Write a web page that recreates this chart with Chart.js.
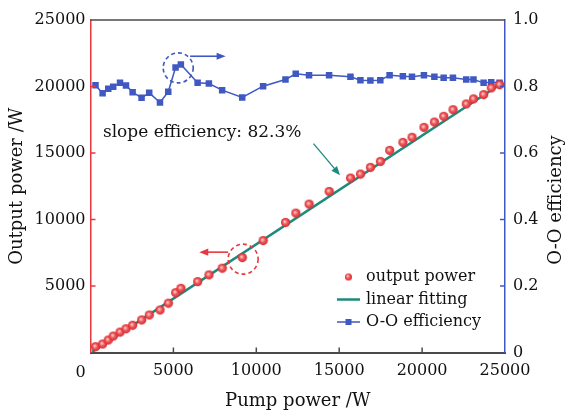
<!DOCTYPE html>
<html>
<head>
<meta charset="utf-8">
<script src="https://cdn.jsdelivr.net/npm/chart.js@4.4.0/dist/chart.umd.min.js"></script>
<style>
  body { margin: 0; background: #fff; }
  #wrap { width: 568px; height: 412px; }
</style>
</head>
<body>
<div id="wrap"><canvas id="chart" width="568" height="412"></canvas></div>
<script>
// pump power (W), shared by both series
const pumpPower = [300, 730, 1070, 1370, 1780, 2140, 2540, 3080, 3540, 4190, 4690, 5130, 5450, 6460,
  7140, 7940, 9150, 10410, 11760, 12380, 13180, 14390, 15680, 16280, 16880, 17480, 18040, 18840,
  19390, 20110, 20740, 21300, 21860, 22660, 23100, 23710, 24170, 24670];
const outputPower = [440, 640, 940, 1240, 1540, 1790, 2050, 2450, 2820, 3200, 3710, 4500, 4830, 5330,
  5840, 6340, 7140, 8420, 9780, 10480, 11160, 12110, 13120, 13420, 13920, 14370, 15200, 15800,
  16180, 16930, 17330, 17760, 18260, 18690, 19070, 19390, 19900, 20140];
const ooEfficiency = [0.804, 0.780, 0.793, 0.799, 0.811, 0.803, 0.783, 0.766, 0.781, 0.752, 0.784, 0.857,
  0.866, 0.811, 0.809, 0.789, 0.767, 0.801, 0.821, 0.838, 0.834, 0.834, 0.829, 0.819, 0.818, 0.819,
  0.834, 0.831, 0.829, 0.834, 0.829, 0.826, 0.826, 0.821, 0.821, 0.811, 0.813, 0.811];
// linear fit end points
const fitX = [100, 24700];
const fitY = [50, 20150];

const xTicks = [0, 5000, 10000, 15000, 20000, 25000];
const leftTicks = [0, 5000, 10000, 15000, 20000, 25000];
const rightTicks = [0, 0.2, 0.4, 0.6, 0.8, 1.0];

const slopeText = 'slope efficiency: 82.3%';
const legendLabels = ['output power', 'linear fitting', 'O-O efficiency'];

const red = '#e8383d';
const blue = '#3f58c2';
const teal = '#1c8a7c';
const axisGray = '#4a4a4a';
const serif = "'DejaVu Serif', serif";

Chart.defaults.font.family = serif;
Chart.defaults.color = '#111';

function makeBall(r) {
  const c = document.createElement('canvas');
  c.width = c.height = r * 2 + 2;
  const g = c.getContext('2d');
  const m = r + 1;
  const grad = g.createRadialGradient(m - 1, m - 1, 0.3, m, m, r);
  grad.addColorStop(0, '#fbd2d2');
  grad.addColorStop(0.45, '#ef5b5e');
  grad.addColorStop(1, '#d8262b');
  g.fillStyle = grad;
  g.beginPath();
  g.arc(m, m, r, 0, Math.PI * 2);
  g.fill();
  return c;
}
const ball = makeBall(4.6);
const smallBall = makeBall(3.5);

function arrow(ctx, x1, y1, x2, y2, color, w, head) {
  const ang = Math.atan2(y2 - y1, x2 - x1);
  ctx.strokeStyle = color;
  ctx.fillStyle = color;
  ctx.lineWidth = w;
  ctx.setLineDash([]);
  ctx.beginPath();
  ctx.moveTo(x1, y1);
  ctx.lineTo(x2 - Math.cos(ang) * head * 0.8, y2 - Math.sin(ang) * head * 0.8);
  ctx.stroke();
  ctx.beginPath();
  ctx.moveTo(x2, y2);
  ctx.lineTo(x2 - head * Math.cos(ang) + head * 0.4 * Math.sin(ang), y2 - head * Math.sin(ang) - head * 0.4 * Math.cos(ang));
  ctx.lineTo(x2 - head * Math.cos(ang) - head * 0.4 * Math.sin(ang), y2 - head * Math.sin(ang) + head * 0.4 * Math.cos(ang));
  ctx.closePath();
  ctx.fill();
}

function dashedCircle(ctx, cx, cy, r, color) {
  ctx.strokeStyle = color;
  ctx.lineWidth = 1.6;
  ctx.setLineDash([4, 3]);
  ctx.beginPath();
  ctx.arc(cx, cy, r, 0, Math.PI * 2);
  ctx.stroke();
  ctx.setLineDash([]);
}

const decorations = {
  id: 'decorations',
  afterDraw(chart) {
    const { ctx, chartArea: a, scales } = chart;
    const x = scales.x, y = scales.y, y1 = scales.y1;
    ctx.save();

    // top frame
    ctx.strokeStyle = axisGray;
    ctx.lineWidth = 1.5;
    ctx.beginPath();
    ctx.moveTo(a.left, a.top);
    ctx.lineTo(a.right, a.top);
    ctx.stroke();

    // inward tick marks
    ctx.lineWidth = 1.5;
    ctx.strokeStyle = axisGray;
    xTicks.slice(1, -1).forEach(v => {
      const px = x.getPixelForValue(v);
      ctx.beginPath(); ctx.moveTo(px, a.bottom); ctx.lineTo(px, a.bottom - 5); ctx.stroke();
    });
    ctx.strokeStyle = red;
    leftTicks.slice(1, -1).forEach(v => {
      const py = y.getPixelForValue(v);
      ctx.beginPath(); ctx.moveTo(a.left, py); ctx.lineTo(a.left + 5, py); ctx.stroke();
    });
    ctx.strokeStyle = blue;
    rightTicks.slice(1, -1).forEach(v => {
      const py = y1.getPixelForValue(v);
      ctx.beginPath(); ctx.moveTo(a.right, py); ctx.lineTo(a.right - 5, py); ctx.stroke();
    });

    // x "0" label sits left of the corner
    ctx.fillStyle = '#111';
    ctx.font = '16px ' + serif;
    ctx.textAlign = 'center';
    ctx.textBaseline = 'middle';
    ctx.fillText('0', x.getPixelForValue(0) - 10, a.bottom + 20);

    // right axis title, reading bottom to top
    ctx.save();
    ctx.translate(556, 200);
    ctx.rotate(-Math.PI / 2);
    ctx.font = '18px ' + serif;
    ctx.fillText('O-O efficiency', 0, 0);
    ctx.restore();

    // annotations
    dashedCircle(ctx, x.getPixelForValue(9205), y.getPixelForValue(7018), 15, red);
    arrow(ctx, x.getPixelForValue(8300), y.getPixelForValue(7545), x.getPixelForValue(6560), y.getPixelForValue(7545), red, 1.6, 9);
    dashedCircle(ctx, x.getPixelForValue(5290), y1.getPixelForValue(0.856), 15, blue);
    arrow(ctx, x.getPixelForValue(6010), y1.getPixelForValue(0.891), x.getPixelForValue(8150), y1.getPixelForValue(0.891), blue, 1.6, 9);
    arrow(ctx, x.getPixelForValue(13450), y.getPixelForValue(15700), x.getPixelForValue(15050), y.getPixelForValue(13330), teal, 1.3, 9);

    ctx.fillStyle = '#111';
    ctx.font = '17px ' + serif;
    ctx.textAlign = 'left';
    ctx.fillText(slopeText, x.getPixelForValue(750), y.getPixelForValue(16530));

    // legend
    const lx = 337, ly = 277, gap = 22.5;
    ctx.font = '16px ' + serif;
    ctx.drawImage(smallBall, lx + 11.5 - smallBall.width / 2, ly - smallBall.height / 2);
    ctx.strokeStyle = teal; ctx.lineWidth = 2.5;
    ctx.beginPath(); ctx.moveTo(lx, ly + gap); ctx.lineTo(lx + 23, ly + gap); ctx.stroke();
    ctx.strokeStyle = blue; ctx.lineWidth = 1.5;
    ctx.beginPath(); ctx.moveTo(lx, ly + 2 * gap); ctx.lineTo(lx + 23, ly + 2 * gap); ctx.stroke();
    ctx.fillStyle = blue;
    ctx.fillRect(lx + 8.5, ly + 2 * gap - 3, 6, 6);
    ctx.fillStyle = '#111';
    legendLabels.forEach((t, i) => ctx.fillText(t, lx + 29, ly + i * gap));

    ctx.restore();
  }
};

new Chart(document.getElementById('chart'), {
  type: 'line',
  data: {
    datasets: [
      {
        label: legendLabels[0],
        data: pumpPower.map((p, i) => ({ x: p, y: outputPower[i] })),
        showLine: false,
        pointStyle: ball,
        yAxisID: 'y'
      },
      {
        label: legendLabels[1],
        data: fitX.map((p, i) => ({ x: p, y: fitY[i] })),
        borderColor: teal,
        borderWidth: 2.5,
        pointRadius: 0,
        yAxisID: 'y'
      },
      {
        label: legendLabels[2],
        data: pumpPower.map((p, i) => ({ x: p, y: ooEfficiency[i] })),
        borderColor: blue,
        backgroundColor: blue,
        borderWidth: 1.5,
        pointStyle: 'rect',
        pointRadius: 4.6,
        pointBorderWidth: 0,
        tension: 0,
        yAxisID: 'y1'
      }
    ]
  },
  options: {
    responsive: false,
    animation: false,
    events: [],
    layout: { padding: { top: 20, left: 0, right: 0, bottom: 0 } },
    plugins: { legend: { display: false }, tooltip: { enabled: false } },
    scales: {
      x: {
        type: 'linear',
        min: 0, max: 25000,
        afterBuildTicks: s => { s.ticks = xTicks.map(v => ({ value: v })); },
        afterFit: s => { s.height = 59.5; },
        ticks: { padding: 9, font: { size: 16 }, color: '#111', maxRotation: 0,
          callback: v => v === 0 ? '' : String(v) },
        grid: { drawOnChartArea: false, drawTicks: false },
        border: { color: axisGray, width: 2 },
        title: { display: true, text: 'Pump power /W', font: { size: 18 }, color: '#111', padding: { top: 2, bottom: 0 } }
      },
      y: {
        position: 'left',
        min: 0, max: 25000,
        afterBuildTicks: s => { s.ticks = leftTicks.map(v => ({ value: v })); },
        afterFit: s => { s.width = 90.5; },
        ticks: { padding: 5, font: { size: 16 }, color: '#111',
          callback: v => v === 0 ? '' : String(v) },
        grid: { drawOnChartArea: false, drawTicks: false },
        border: { color: red, width: 1.5 },
        title: { display: true, text: 'Output power /W', font: { size: 18 }, color: '#111', padding: { top: 7, bottom: 0 } }
      },
      y1: {
        position: 'right',
        min: 0, max: 1,
        afterBuildTicks: s => { s.ticks = rightTicks.map(v => ({ value: v })); },
        afterFit: s => { s.width = 63; },
        ticks: { padding: 8, font: { size: 16 }, color: '#111',
          callback: v => v === 0 ? '0' : v.toFixed(1) },
        grid: { drawOnChartArea: false, drawTicks: false },
        border: { color: blue, width: 1.5 }
      }
    }
  },
  plugins: [decorations]
});
</script>
</body>
</html>
